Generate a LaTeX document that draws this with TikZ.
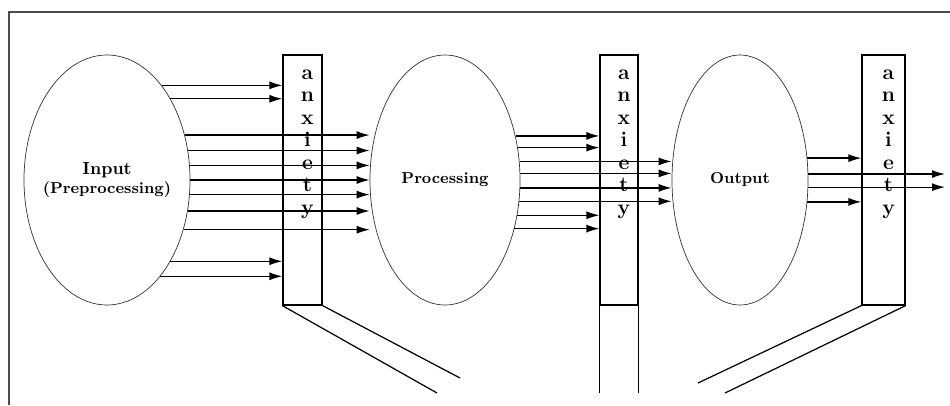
\documentclass[tikz,border=0pt]{standalone}
\usepackage{tikz}
\usetikzlibrary{arrows.meta,positioning,calc,shapes.geometric}

\begin{document}
\begin{tikzpicture}[
  stage/.style={draw=black!80,ellipse,inner sep=0pt,minimum height=5cm},
  caption/.style={align=center,font=\small\bfseries},
  gate/.style={draw,line width=0.7pt,minimum width=0.8cm,minimum height=5cm,inner sep=0pt},
  word/.style={anchor=north,inner sep=0pt,align=center,font=\bfseries\fontsize{12}{12.8}\selectfont},
  flow/.style={-{Latex[length=2.6mm,width=1.6mm]},line width=0.75pt},
  leg/.style={line width=0.7pt}]
\useasboundingbox (0,0) rectangle (19,8.1);
% frame
\draw[gray!60!black,line width=1.1pt] (0.18,0) -- (0.18,7.86) -- (19,7.86);
% stages and anxiety gates
\node[stage,minimum width=3.32cm,label={[caption]center:{\normalsize Input}\\(Preprocessing)}] (in) at (2.14,4.5) {};
\node[gate,minimum width=0.78cm] (g1) at (6.05,4.5) {};
\node[stage,minimum width=3.0cm,label={[caption]center:Processing}] (proc) at (8.9,4.5) {};
\node[stage,minimum width=2.72cm,label={[caption]center:Output}] (out) at (14.8,4.5) {};
\node[gate,minimum width=0.76cm] (g2) at (12.38,4.5) {};
\node[gate,minimum width=0.86cm] (g3) at (17.67,4.5) {};
\node[word] (w1) at ($(g1.north)+(0.1,-0.3)$) {a\\n\\x\\i\\e\\t\\y};
\node[word] (w2) at ($(g2.north)+(0.1,-0.3)$) {a\\n\\x\\i\\e\\t\\y};
\node[word] (w3) at ($(g3.north)+(0.1,-0.3)$) {a\\n\\x\\i\\e\\t\\y};
% input -> gate / processing
\draw[flow] (in.60.4) -- (in.60.4 -| g1.west);
\draw[flow] (in.52) -- (in.52 -| g1.west);
\draw[flow] (in.-52) -- (in.-52 -| g1.west);
\draw[flow] (in.-61) -- (in.-61 -| g1.west);
\draw[flow] (in.30.2) -- (in.30.2 -| proc.west);
\draw[flow] (in.20.4) -- (in.20.4 -| proc.west);
\draw[flow] (in.10.3) -- (in.10.3 -| proc.west);
\draw[flow] (in.0) -- (in.0 -| proc.west);
\draw[flow] (in.-10.3) -- (in.-10.3 -| proc.west);
\draw[flow] (in.-21.8) -- (in.-21.8 -| proc.west);
\draw[flow] (in.-33.3) -- (in.-33.3 -| proc.west);
% processing -> gate / output
\draw[flow] (proc.32.7) -- (proc.32.7 -| g2.west);
\draw[flow] (proc.24.5) -- (proc.24.5 -| g2.west);
\draw[flow] (proc.-26.6) -- (proc.-26.6 -| g2.west);
\draw[flow] (proc.-35.4) -- (proc.-35.4 -| g2.west);
\draw[flow] (proc.14.4) -- (proc.14.4 -| out.west);
\draw[flow] (proc.5.3) -- (proc.5.3 -| out.west);
\draw[flow] (proc.-6.1) -- (proc.-6.1 -| out.west);
\draw[flow] (proc.-16.6) -- (proc.-16.6 -| out.west);
% output -> gate / beyond
\coordinate (exit) at (18.9,4.5);
\draw[flow] (out.18.2) -- (out.18.2 -| g3.west);
\draw[flow] (out.5.9) -- (out.5.9 -| exit);
\draw[flow] (out.-6.7) -- (out.-6.7 -| exit);
\draw[flow] (out.-18.2) -- (out.-18.2 -| g3.west);
% legs under the gates
\coordinate (l1a) at (8.74,0.24);
\coordinate (l1b) at (9.2,0.54);
\coordinate (l3a) at (13.96,0.44);
\coordinate (l3b) at (14.5,0.24);
\draw[leg] (g1.south west) -- (l1a);
\draw[leg] (g1.south east) -- (l1b);
\draw[leg] (g2.south west) -- (g2.south west |- l1a);
\draw[leg] (g2.south east) -- (g2.south east |- l1a);
\draw[leg] (g3.south west) -- (l3a);
\draw[leg] (g3.south east) -- (l3b);
\end{tikzpicture}
\end{document}
